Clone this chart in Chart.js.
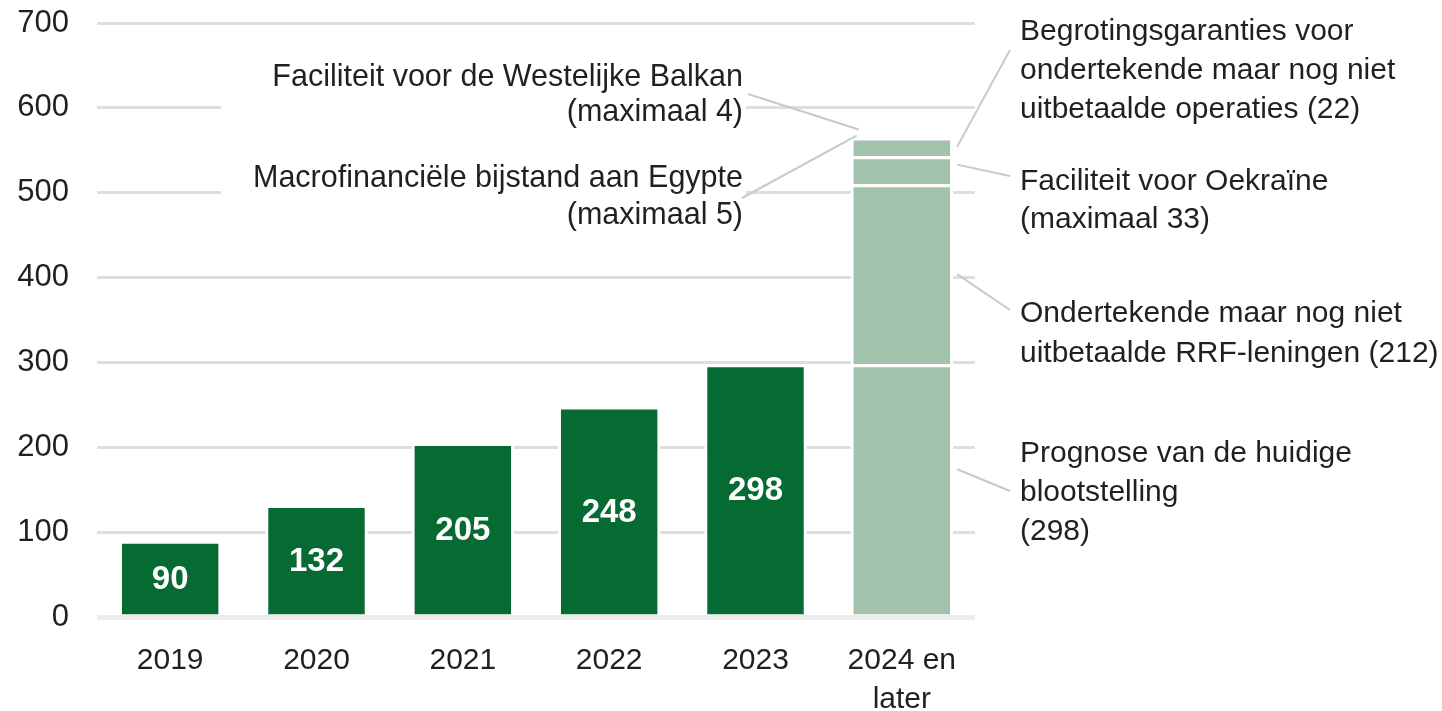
<!DOCTYPE html>
<html>
<head>
<meta charset="utf-8">
<script src="https://cdn.jsdelivr.net/npm/chart.js@4.4.1/dist/chart.umd.min.js"></script>
<style>
html,body{margin:0;padding:0;background:#ffffff;}
</style>
</head>
<body>
<canvas id="myChart" width="1442" height="711"></canvas>
<script>
// data
const categories = ['2019', '2020', '2021', '2022', '2023', ['2024 en', 'later']];
const exposure = [90, 132, 205, 248, 298, null];
const forecastValues = [298, 212, 33, 22];
const smallValues = [4, 5];
const yMax = 700;
const yStep = 100;

const FONT = "'Liberation Sans', Arial, sans-serif";
const TEXT = '#231f20';
const DARK = '#066a33';
const LIGHT = '#a2c2ad';
const LEADER = '#c9c9c9';

const forecastTexts = [
  ['Prognose van de huidige', 'blootstelling', '(' + forecastValues[0] + ')'],
  ['Ondertekende maar nog niet', 'uitbetaalde RRF-leningen (' + forecastValues[1] + ')'],
  ['Faciliteit voor Oekraïne', '(maximaal ' + forecastValues[2] + ')'],
  ['Begrotingsgaranties voor', 'ondertekende maar nog niet', 'uitbetaalde operaties (' + forecastValues[3] + ')']
];
const smallTexts = [
  ['Faciliteit voor de Westelijke Balkan', '(maximaal ' + smallValues[0] + ')'],
  ['Macrofinanciële bijstand aan Egypte', '(maximaal ' + smallValues[1] + ')']
];

// label placement (pixels): first line centre, line height, leader end y, start fraction in segment
const rightX = 1020;
const rightLayout = [
  {y: 454, lh: 39, endY: 491, frac: 0.42},
  {y: 314, lh: 40, endY: 310, frac: 0.5},
  {y: 182, lh: 38, endY: 176, frac: 0.3},
  {y: 32, lh: 39, endY: 50, frac: 0.5}
];
const leftX = 743;
const leftLayout = [
  {y: 78, lh: 35, sx: 748, sy: 94, dx: 8, dy: -8},
  {y: 179, lh: 37, sx: 742, sy: 198, dx: 6, dy: -2}
];

const datasets = [{
  label: 'Blootstelling',
  data: exposure,
  backgroundColor: DARK,
  stack: 's'
}];
forecastValues.forEach((v, i) => {
  datasets.push({
    label: forecastTexts[i].join(' '),
    data: categories.map((c, j) => j === categories.length - 1 ? v : null),
    backgroundColor: LIGHT,
    stack: 's'
  });
});

const annot = {
  id: 'annot',
  beforeDatasetsDraw(chart) {
    const ctx = chart.ctx;
    // white box behind the left labels, hides the grid lines
    ctx.save();
    ctx.font = '30.5px ' + FONT;
    let w = 0;
    smallTexts.forEach(t => t.forEach(s => { w = Math.max(w, ctx.measureText(s).width); }));
    ctx.fillStyle = '#ffffff';
    ctx.fillRect(leftX - w - 32, leftLayout[0].y - 20, w + 35, leftLayout[1].y + leftLayout[1].lh + 20 - (leftLayout[0].y - 20));
    ctx.restore();
  },
  afterDatasetsDraw(chart) {
    const ctx = chart.ctx;
    ctx.save();
    // values inside the bars
    const m0 = chart.getDatasetMeta(0);
    ctx.font = 'bold 33px ' + FONT;
    ctx.fillStyle = '#ffffff';
    ctx.textAlign = 'center';
    ctx.textBaseline = 'middle';
    m0.data.forEach((el, i) => {
      if (exposure[i] == null) return;
      ctx.fillText(exposure[i], el.x, (el.y + el.base) / 2 + 2);
    });

    // right labels and leader lines
    ctx.font = '30px ' + FONT;
    ctx.fillStyle = TEXT;
    ctx.textAlign = 'left';
    ctx.strokeStyle = LEADER;
    ctx.lineWidth = 2;
    const last = categories.length - 1;
    forecastTexts.forEach((lines, i) => {
      const el = chart.getDatasetMeta(i + 1).data[last];
      const L = rightLayout[i];
      const sx = el.x + el.width / 2 + 4;
      const sy = el.y + (el.base - el.y) * L.frac;
      ctx.beginPath();
      ctx.moveTo(sx, sy);
      ctx.lineTo(rightX - 10, L.endY);
      ctx.stroke();
      lines.forEach((s, k) => ctx.fillText(s, rightX, L.y + k * L.lh));
    });

    // left labels for the two small facilities
    const top = chart.getDatasetMeta(forecastValues.length).data[last];
    const barLeft = top.x - top.width / 2;
    ctx.font = '30.5px ' + FONT;
    ctx.textAlign = 'right';
    smallTexts.forEach((lines, i) => {
      const L = leftLayout[i];
      ctx.beginPath();
      ctx.moveTo(L.sx, L.sy);
      ctx.lineTo(barLeft + L.dx, top.y + L.dy);
      ctx.stroke();
      lines.forEach((s, k) => ctx.fillText(s, leftX, L.y + k * L.lh));
    });
    ctx.restore();
  }
};

new Chart('myChart', {
  type: 'bar',
  data: { labels: categories, datasets: datasets },
  options: {
    responsive: false,
    animation: false,
    devicePixelRatio: 1,
    layout: { padding: { left: 0, top: 23, right: 467, bottom: 0 } },
    datasets: {
      bar: {
        barPercentage: 0.70,
        categoryPercentage: 1,
        borderColor: '#ffffff',
        borderWidth: 3,
        borderSkipped: 'start'
      }
    },
    plugins: {
      legend: { display: false },
      tooltip: { enabled: false }
    },
    scales: {
      x: {
        stacked: true,
        grid: { display: false },
        border: { display: false },
        ticks: {
          color: TEXT,
          padding: 16,
          maxRotation: 0,
          font: { family: FONT, size: 30, lineHeight: 1.3 }
        },
        afterFit(scale) { scale.height = 94; }
      },
      y: {
        stacked: true,
        min: 0,
        max: yMax,
        border: { display: false },
        grid: {
          drawTicks: false,
          color: c => c.tick.value === 0 ? '#ececec' : '#dedede',
          lineWidth: c => c.tick.value === 0 ? 5 : 3
        },
        ticks: {
          stepSize: yStep,
          color: TEXT,
          padding: 28,
          font: { family: FONT, size: 31 }
        },
        afterFit(scale) {
          scale.width = 97;
          scale.paddingTop = 0;
          scale.paddingBottom = 0;
        }
      }
    }
  },
  plugins: [annot]
});
</script>
</body>
</html>
